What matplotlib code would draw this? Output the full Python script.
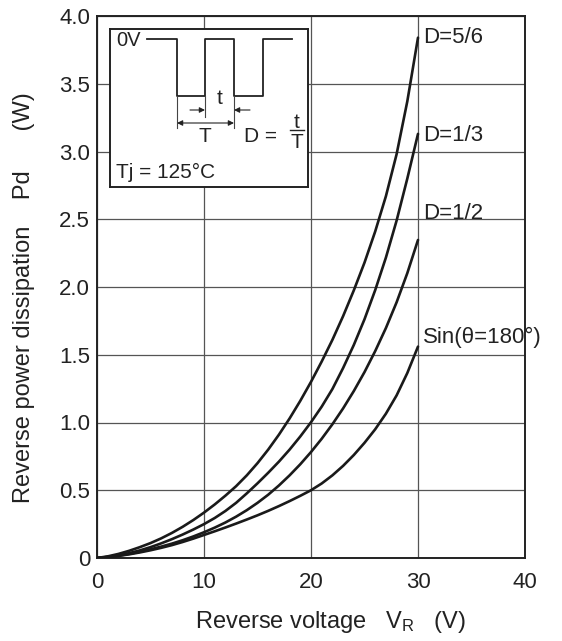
import matplotlib
matplotlib.use("Agg")
import matplotlib.pyplot as plt

plt.rcParams['font.family'] = ['Liberation Sans', 'DejaVu Sans']
plt.rcParams['mathtext.default'] = 'regular'

# ---- data ----
vr = list(range(0, 31))
pd_d56 = [0, 0.012, 0.03, 0.053, 0.08, 0.11, 0.145, 0.185, 0.23, 0.28,
          0.335, 0.395, 0.46, 0.53, 0.61, 0.70, 0.80, 0.91, 1.03, 1.16,
          1.30, 1.45, 1.61, 1.785, 1.975, 2.18, 2.41, 2.67, 2.98, 3.37, 3.84]
pd_d13 = [0, 0.008, 0.02, 0.036, 0.056, 0.08, 0.108, 0.139, 0.173, 0.21,
          0.25, 0.295, 0.347, 0.407, 0.477, 0.551, 0.629, 0.711, 0.80, 0.897,
          1.002, 1.117, 1.247, 1.402, 1.572, 1.762, 1.977, 2.217, 2.49, 2.80, 3.13]
pd_d12 = [0, 0.007, 0.017, 0.03, 0.046, 0.064, 0.084, 0.106, 0.131, 0.159,
          0.19, 0.224, 0.262, 0.305, 0.353, 0.407, 0.467, 0.535, 0.61, 0.692,
          0.782, 0.88, 0.987, 1.104, 1.232, 1.372, 1.527, 1.697, 1.887, 2.102, 2.347]
pd_sin = [0, 0.006, 0.015, 0.027, 0.041, 0.057, 0.075, 0.095, 0.118, 0.143,
          0.17, 0.197, 0.225, 0.254, 0.284, 0.315, 0.348, 0.383, 0.42, 0.459,
          0.50, 0.55, 0.61, 0.68, 0.76, 0.85, 0.95, 1.065, 1.20, 1.365, 1.56]
series_labels = ['D=5/6', 'D=1/3', 'D=1/2', 'Sin(θ=180°)']
label_y = [3.84, 3.12, 2.54, 1.63]
x_ticks = [0, 10, 20, 30, 40]
y_ticks = [0, 0.5, 1.0, 1.5, 2.0, 2.5, 3.0, 3.5, 4.0]
y_ticklabels = ['0', '0.5', '1.0', '1.5', '2.0', '2.5', '3.0', '3.5', '4.0']

W, H = 562, 641
fig = plt.figure(figsize=(W / 100, H / 100), dpi=100)
L, R, T, B = 97, 525, 16, 558
ax = fig.add_axes([L / W, 1 - B / H, (R - L) / W, (B - T) / H])

for ys in (pd_d56, pd_d13, pd_d12, pd_sin):
    ax.plot(vr, ys, color='#1a1a1a', lw=1.9, solid_capstyle='round',
            solid_joinstyle='round', zorder=3)

for lab, yv in zip(series_labels, label_y):
    ax.text(30.5, yv, lab, fontsize=16, va='center', ha='left', color='#222')

ax.set_xlim(0, 40)
ax.set_ylim(0, 4.0)
ax.set_xticks(x_ticks)
ax.set_yticks(y_ticks)
ax.set_yticklabels(y_ticklabels)
ax.tick_params(axis='both', length=0, labelsize=16, colors='#222')
ax.tick_params(axis='x', pad=10)
ax.tick_params(axis='y', pad=5)
ax.grid(True, color='#555555', lw=0.9)
for s in ax.spines.values():
    s.set_linewidth(1.4)
    s.set_color('#222')

fig.text(330 / W, 1 - 622 / H, 'Reverse voltage   V$_R$   (V)', fontsize=17,
         ha='center', va='center', color='#222')
fig.text(24 / W, 1 - 298 / H, 'Reverse power dissipation    Pd      (W)', fontsize=17,
         ha='center', va='center', rotation=90, color='#222')

# ---- inset diagram ----
bx0, by0, bw, bh = 110, 29, 198, 158
ins = fig.add_axes([bx0 / W, 1 - (by0 + bh) / H, bw / W, bh / H])
ins.set_xlim(0, bw)
ins.set_ylim(bh, 0)
ins.set_xticks([])
ins.set_yticks([])
ins.set_facecolor('white')
for s in ins.spines.values():
    s.set_linewidth(1.4)
    s.set_color('#222')

wave_x = [37, 67, 67, 95, 95, 124, 124, 153, 153, 182]
wave_y = [10, 10, 67, 67, 10, 10, 67, 67, 10, 10]
ins.plot(wave_x, wave_y, color='#222', lw=1.3)
ins.text(6, 11, '0V', fontsize=14.5, va='center', ha='left', color='#222')

# extension lines
ins.plot([67, 67], [67, 99], color='#444', lw=0.8)
ins.plot([95, 95], [67, 88], color='#444', lw=0.8)
ins.plot([124, 124], [67, 99], color='#444', lw=0.8)
# t arrows (outside pointing in)
ap = dict(arrowstyle='-|>', color='#222', lw=0.8, mutation_scale=8, shrinkA=0, shrinkB=0)
ins.annotate('', xy=(95, 81), xytext=(80, 81), arrowprops=ap)
ins.annotate('', xy=(124, 81), xytext=(140, 81), arrowprops=ap)
ins.text(109.5, 70, 't', fontsize=15, ha='center', va='center', color='#222')
# T arrow
ap2 = dict(arrowstyle='<|-|>', color='#222', lw=0.8, mutation_scale=8, shrinkA=0, shrinkB=0)
ins.annotate('', xy=(124, 94), xytext=(67, 94), arrowprops=ap2)
ins.text(95, 108, 'T', fontsize=15, ha='center', va='center', color='#222')
# D = t/T
ins.text(150, 108, 'D =', fontsize=15, ha='center', va='center', color='#222')
ins.text(187, 94, 't', fontsize=15, ha='center', va='center', color='#222')
ins.plot([180, 194], [101, 101], color='#222', lw=1.0)
ins.text(187, 113, 'T', fontsize=15, ha='center', va='center', color='#222')
ins.text(6, 143, 'Tj = 125°C', fontsize=15, ha='left', va='center', color='#222')

fig.savefig('out.png', dpi=100)
